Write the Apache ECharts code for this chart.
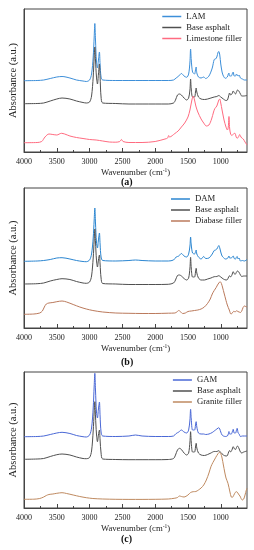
<!DOCTYPE html>
<html>
<head>
<meta charset="utf-8">
<script src="https://cdn.jsdelivr.net/npm/echarts@6/dist/echarts.min.js"></script>
<style>
html,body{margin:0;padding:0;background:#fff;}
#chart{width:254px;height:550px;}
</style>
</head>
<body>
<div id="chart"></div>
<script>
// ---------- tick labels ----------
const majorTicks = [1000, 1500, 2000, 2500, 3000, 3500, 4000];
const minorTicks = [750, 1250, 1750, 2250, 2750, 3250, 3750];

// ---------- panel (a) ----------
const lamWn = [4000,3800,3700,3600,3500,3420,3300,3200,3100,3050,3000,2970,2945,2930,2920,2910,2895,2880,2865,2850,2840,2825,2800,2600,2400,2200,2000,1800,1720,1680,1640,1600,1560,1520,1490,1470,1460,1450,1430,1400,1385,1375,1365,1340,1300,1260,1230,1180,1130,1100,1080,1060,1040,1030,1015,1000,980,960,930,900,885,875,865,840,820,810,795,775,760,750,735,720,700,670,640,600];
const lamAbs = [71.3,71.5,72,73.5,75,75.5,74,72,71,70.5,72,78,95,115,128.5,112,90,84,92,100,88,75,72,71.5,71.5,71.5,71.5,71.5,72,74,76,78.5,76,74.7,78,90,103,92,80,78,82,85,79,75,74,75,73.5,76,84,92.5,93,95,100,100.5,97,88,80,76,73.7,75,78,79,76,76,79,80,76,76,78,78,76,77,74,73,72,72];

const baseAWn = [4000,3800,3700,3600,3500,3420,3300,3200,3100,3050,3000,2970,2945,2930,2920,2910,2895,2880,2865,2850,2840,2825,2800,2600,2400,2200,2000,1800,1720,1690,1660,1630,1600,1560,1520,1490,1470,1460,1450,1430,1400,1385,1375,1365,1340,1300,1250,1200,1150,1100,1060,1030,1000,960,920,898,880,865,850,830,810,790,775,760,745,725,700,680,650,600];
const baseAAbs = [48.3,48.5,49,51,53,54,53,51,49.5,49,50,56,75,95,105,92,75,68,78,88,75,55,49,48.5,48,48,48,48,49,52,57,58,57,54,52,54,62,73,63,55,55,60,64,60,55,53,52.5,53,54,55,55.5,56.5,55,53,51.5,52,56,59,57,58,61,59,58,60,62,61,58,56,56,56.5];

const limeWn = [4000,3800,3730,3680,3620,3560,3500,3430,3380,3300,3200,3100,3000,2900,2800,2700,2600,2540,2515,2490,2400,2200,2000,1850,1810,1795,1780,1700,1650,1600,1550,1500,1470,1440,1420,1400,1380,1350,1300,1260,1220,1180,1140,1110,1090,1060,1030,1015,1000,980,950,920,898,885,875,865,850,830,800,783,765,750,730,712,700,680,657,630,600];
const limeAbs = [9.3,9.5,10.5,15,18,17.5,17,18.7,18,16,14.5,13.5,12.5,12,11,10,9.8,10.5,12.5,10.5,9.5,9.5,10.5,13,14,16.5,15,18.5,21,25,29,35,42,52,56,52,46,40,33,29,26,27,33,40,43.5,46,52,53,49,42,32,25,22,25,35.5,24,18,16.5,18.5,18.7,15,13.7,15,17.5,16,14,13,10,7];

// ---------- panel (b) ----------
const damWn = [4000,3800,3700,3600,3500,3420,3300,3200,3100,3050,3000,2970,2945,2930,2920,2910,2895,2880,2865,2850,2840,2825,2800,2600,2400,2300,2200,2000,1800,1720,1680,1640,1600,1560,1520,1490,1470,1460,1450,1430,1400,1385,1375,1365,1340,1300,1260,1230,1180,1130,1100,1080,1060,1040,1030,1015,1000,980,960,930,900,885,875,865,840,820,810,795,775,760,750,735,720,700,670,640,600];
const damAbs = [66.7,67,67.5,68.5,70,70.3,69,67.5,66.5,66.3,68,74,90,108,120,105,86,80,88,95,84,71,67.5,67,67.5,68,67.5,67,67,68,71,72,74.5,72,71,74,82,91,83,75,74,76,78,74,71,69,71.5,69.5,70,74,77.5,78,79,81.5,82.5,80,76,72,70.5,69,69.5,71,72,70,70,71.5,72,69.5,69,71,71.5,69,70,67,67.5,67,68.5];

const baseBWn = baseAWn;
const baseBAbs = [44,44.3,45,47,48.5,49.3,48.5,46.5,45,44.7,46,52,70,88,99,86,68,61,68,73,64,50,44.5,44,43.5,43.5,43.5,43.7,45,48,52.5,53,52,49.5,48,50,60,70.7,60,51,51,56,59.7,55,50,48,48,49,50,51.3,51.5,52.3,51,49,48,48.5,51,52.3,51,53,56.3,54,54,56,57,56,53,51.5,52,52];

const diaWn = [4000,3850,3760,3720,3690,3660,3620,3560,3500,3420,3350,3250,3150,3050,2950,2800,2600,2400,2200,2000,1800,1700,1670,1640,1610,1580,1540,1500,1450,1400,1350,1300,1250,1200,1160,1130,1100,1070,1050,1030,1010,990,970,950,920,900,870,845,830,815,800,780,760,740,720,700,680,660,640,620,600];
const diaAbs = [13.7,14,15,17,21,24,25,25.5,26.3,27,26,23.5,21,19,17.5,16,15,14.7,14.5,14.5,14.8,15,16,17.5,16,14.5,15,16.5,17,17.5,18,19,21,24.7,29,34,37.5,40.5,43,45,46.3,44.5,40,35,27.5,23,18,14,14.5,16,16.7,16,17.3,16.5,16,15.5,17,20.5,22,21.5,21];

// ---------- panel (c) ----------
const gamWn = damWn;
const gamAbs = [71.3,71.5,72,73.5,75,75.7,74.5,72.5,71.3,71,73,80,100,122,134.7,118,96,90,99,106,92,76,72,71.5,72,73,72,71.5,71.5,72,74.5,76,78,76,75,78,88,98.7,89,78,78,83,86.3,81,75,74,74,73.5,74,75.5,77,78,79,80,80.3,79,76,73,72,71.5,72,74,76.5,74,74,77,78.7,75,75,78,79.7,75,74,71.5,72,72,72];

const baseCWn = baseAWn;
const baseCAbs = [48.7,49,49.5,51.5,53.3,54,53,51,49.5,49.3,50.5,57,77,96,106.3,92,74,66.3,73,78,68,55,49,48.5,48.3,48.3,48.3,48.5,49.5,53,58,59.7,58.5,55,53,55,66,76.3,66,56,56,61,64.7,60,55,53,52.5,53.5,55,56.5,56.5,57.3,55.5,53,52,52.5,56,57.5,56,58,61.3,59,58.5,60.5,62,60,56,55,56,57];

const graWn = [4000,3850,3760,3700,3660,3620,3560,3500,3420,3350,3250,3150,3050,2950,2800,2600,2400,2200,2000,1800,1700,1660,1630,1600,1560,1500,1460,1420,1380,1340,1300,1260,1220,1180,1150,1120,1090,1060,1040,1030,1015,1000,980,960,940,920,890,860,840,823,800,780,758,740,720,707,690,672,650,630,610,600];
const graAbs = [8.7,8.8,9.5,11,12.5,13.5,14,14.7,15.3,14.5,13,11.5,10.3,9.5,9,8.7,8.6,8.6,8.7,9,9.8,10.5,12,11.5,11,13,15.5,16.3,16.5,18,20,23,28,35,41.3,45.5,49,52.5,54.5,55.3,55.5,54.5,50,43,36,30,24.7,16,11,10.7,13,15.5,16.3,15,13,12,9.5,8,9,13,18,19.7];

// ---------- build ----------
const FONT = 'Liberation Serif';
const AX = '#444';
const panels = [
  {top: 9, height: 143, ymax: 143, label: '(a)', labelY: 183, legendTop: 11,
   series: [
     {name: 'LAM', wn: lamWn, v: lamAbs, color: '#3d8fd9'},
     {name: 'Base asphalt', wn: baseAWn, v: baseAAbs, color: '#505050'},
     {name: 'Limestone filler', wn: limeWn, v: limeAbs, color: '#ff6b80'}]},
  {top: 188, height: 140, ymax: 140, label: '(b)', labelY: 363, legendTop: 193.5,
   series: [
     {name: 'DAM', wn: damWn, v: damAbs, color: '#2b86d1'},
     {name: 'Base asphalt', wn: baseBWn, v: baseBAbs, color: '#505050'},
     {name: 'Diabase filler', wn: diaWn, v: diaAbs, color: '#bb7a5c'}]},
  {top: 372, height: 136, ymax: 136, label: '(c)', labelY: 540, legendTop: 374.5,
   series: [
     {name: 'GAM', wn: gamWn, v: gamAbs, color: '#4a68d6'},
     {name: 'Base asphalt', wn: baseCWn, v: baseCAbs, color: '#505050'},
     {name: 'Granite filler', wn: graWn, v: graAbs, color: '#bf8a60'}]}
];

const grid = [], xAxis = [], yAxis = [], series = [], legend = [], graphic = [];
panels.forEach((p, i) => {
  grid.push({left: 23, top: p.top, width: 224, height: p.height, show: true,
             borderColor: AX, borderWidth: 1, containLabel: false});
  xAxis.push({
    gridIndex: i, type: 'value', min: 600, max: 4000, inverse: true, position: 'bottom',
    axisLine: {show: true, lineStyle: {color: AX, width: 1}},
    axisTick: {show: true, inside: true, length: 4, customValues: majorTicks, lineStyle: {color: AX}},
    axisLabel: {show: true, customValues: majorTicks, formatter: v => String(v),
                fontFamily: FONT, fontSize: 8, color: '#222', margin: 6},
    splitLine: {show: false},
    name: 'Wavenumber (cm{sup|-1})', nameLocation: 'middle', nameGap: 16,
    nameTextStyle: {fontFamily: FONT, fontSize: 8.7, color: '#222', lineHeight: 9,
      rich: {sup: {fontFamily: FONT, fontSize: 5.5, color: '#222', verticalAlign: 'top', lineHeight: 9, padding: [0,0,4,0]}}}
  });
  yAxis.push({
    gridIndex: i, type: 'value', min: 0, max: p.ymax,
    axisLine: {show: true, lineStyle: {color: AX, width: 1}},
    axisTick: {show: false}, axisLabel: {show: false}, splitLine: {show: false},
    name: 'Absorbance (a.u.)', nameLocation: 'middle', nameGap: 5,
    nameTextStyle: {fontFamily: FONT, fontSize: 10.5, color: '#222'}
  });
  p.series.forEach(s => {
    series.push({
      type: 'line', name: s.name, xAxisIndex: i, yAxisIndex: i,
      data: s.wn.map((w, k) => [w, s.v[k]]),
      showSymbol: false, symbol: 'none', smooth: 0.3,
      lineStyle: {color: s.color, width: 1}, itemStyle: {color: s.color},
      silent: true
    });
  });
  legend.push({
    orient: 'vertical', right: 12, top: p.legendTop, padding: 0, itemGap: 0,
    icon: 'rect', itemWidth: 19, itemHeight: 1.5,
    data: p.series.map(s => ({name: s.name, itemStyle: {color: s.color}})),
    textStyle: {fontFamily: FONT, fontSize: 8.7, color: '#222', lineHeight: 11},
    selectedMode: false
  });
  graphic.push({type: 'text', left: 121, top: p.labelY - 6,
    style: {text: p.label, font: 'bold 10px "Liberation Serif"', fill: '#111'}});
});
// minor tick axes
panels.forEach((p, i) => {
  xAxis.push({
    gridIndex: i, type: 'value', min: 600, max: 4000, inverse: true, position: 'bottom', offset: 0,
    axisLine: {show: false},
    axisTick: {show: true, inside: true, length: 2, customValues: minorTicks, lineStyle: {color: AX}},
    axisLabel: {show: false}, splitLine: {show: false}
  });
});

const chart = echarts.init(document.getElementById('chart'), null, {renderer: 'canvas'});
chart.setOption({animation: false, backgroundColor: '#fff', grid, xAxis, yAxis, series, legend, graphic});
</script>
</body>
</html>
